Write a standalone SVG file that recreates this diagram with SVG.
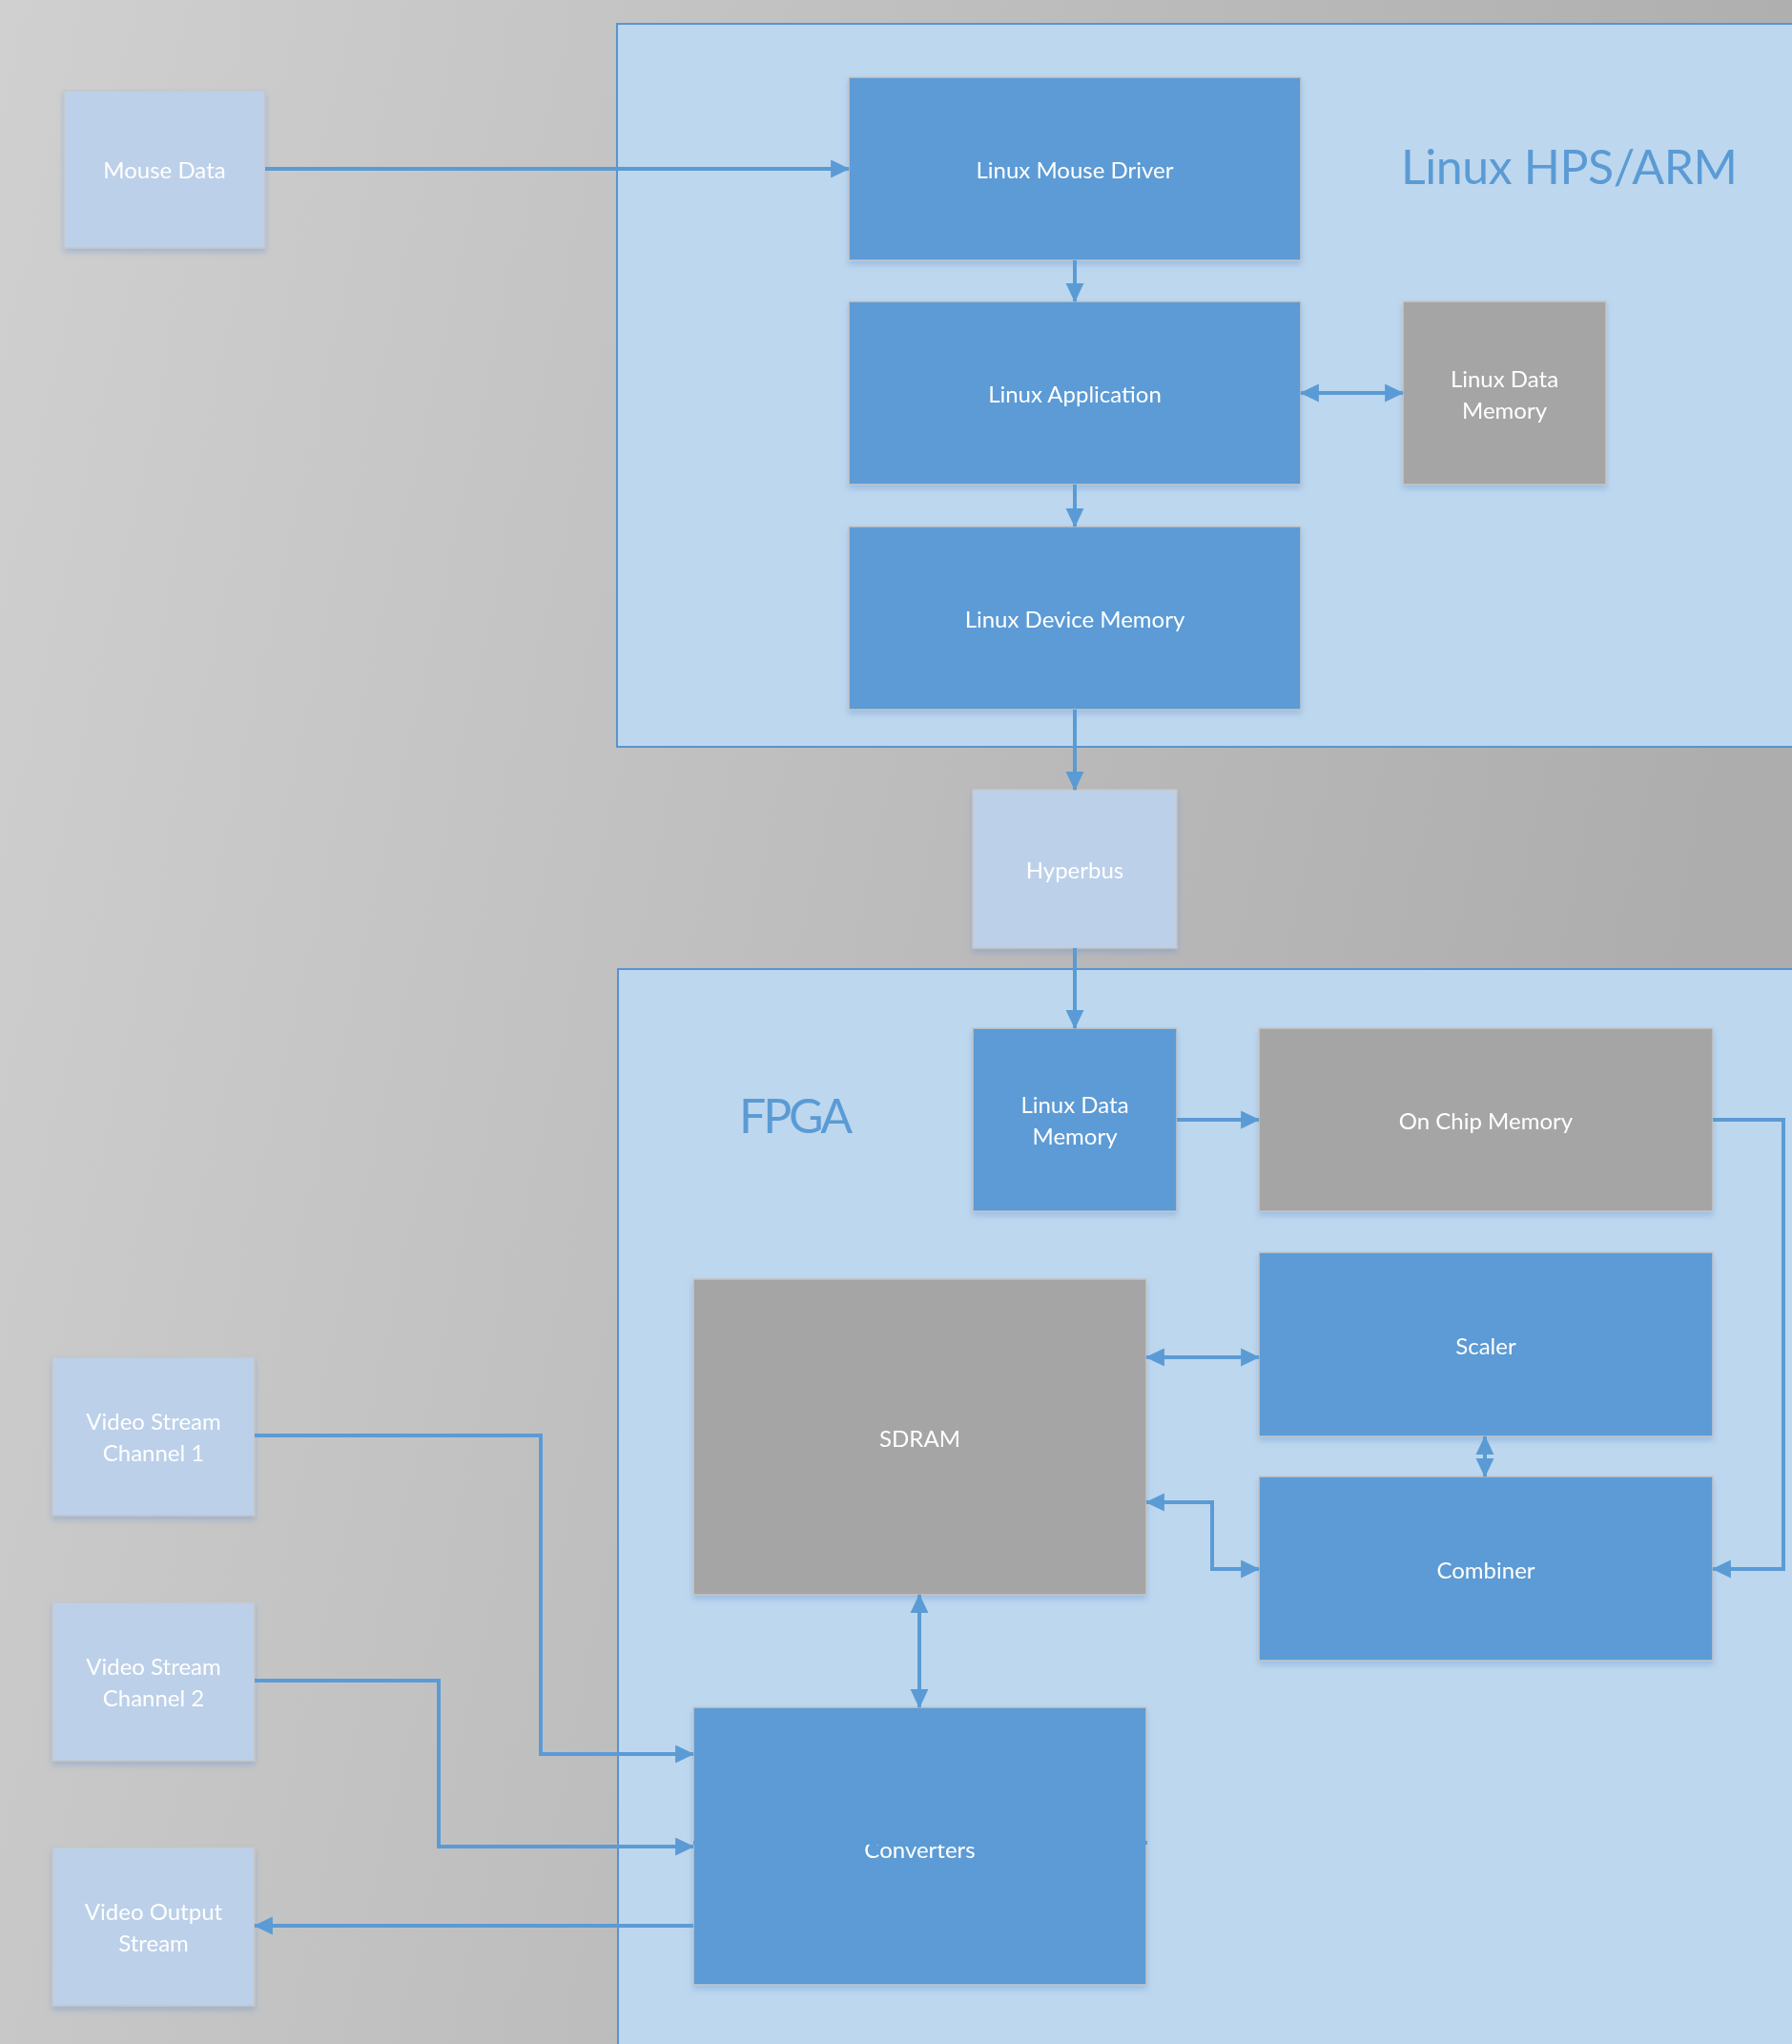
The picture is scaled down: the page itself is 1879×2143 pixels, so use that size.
<svg xmlns="http://www.w3.org/2000/svg" width="1879" height="2143" viewBox="0 0 1879 2143">
<style>
.lbl{font-family:"Lato","Open Sans","Liberation Sans",sans-serif;font-size:24px;fill:#ffffff;text-anchor:middle;dominant-baseline:central}
.title{font-family:"Lato","Open Sans","Liberation Sans",sans-serif;fill:#5b9bd5}
.blue{fill:#5b9bd5;stroke:#c6c6c6;stroke-width:1.5}
.gray{fill:#a5a5a5;stroke:#c6c6c6;stroke-width:1.5}
.light{fill:#bcd0e9;stroke:#c6c6c6;stroke-width:1.5}
.cont{fill:#bdd7ee;stroke:#5b93cf;stroke-width:2}
.conn{fill:none;stroke:#5b9bd5;stroke-width:4}
</style>
<defs>
<linearGradient id="bg" x1="0" y1="0" x2="1" y2="0.25">
<stop offset="0" stop-color="#d0d0d0"/>
<stop offset="1" stop-color="#adadad"/>
</linearGradient>
<filter id="sh" x="-5%" y="-5%" width="110%" height="115%">
<feDropShadow dx="0" dy="4" stdDeviation="3" flood-color="#5b8fd0" flood-opacity="0.35"/>
</filter>
<marker id="ah" markerUnits="userSpaceOnUse" markerWidth="20" markerHeight="20" viewBox="0 0 18 17" refX="17" refY="8.5" orient="auto-start-reverse">
<path d="M0,0 L18,8.5 L0,17 z" fill="#5b9bd5"/>
</marker>
</defs>
<rect x="0" y="0" width="1879" height="2143" fill="url(#bg)"/>

<g id="hps-container">
<rect class="cont" x="647" y="25" width="1240" height="758"/>
<text class="title" x="1469" y="193" font-size="50" textLength="353">Linux HPS/ARM</text>
</g>
<g id="fpga-container">
<rect class="cont" x="648" y="1016" width="1240" height="1140"/>
<text class="title" x="775" y="1188" font-size="50" textLength="119">FPGA</text>
</g>

<g id="mouse-data" filter="url(#sh)">
<rect class="light" x="67" y="95" width="211" height="165"/>
<text class="lbl" x="172.5" y="177">Mouse Data</text>
</g>
<g id="linux-mouse-driver" filter="url(#sh)">
<rect class="blue" x="890" y="81" width="474" height="192"/>
<text class="lbl" x="1127" y="177">Linux Mouse Driver</text>
</g>
<g id="linux-application" filter="url(#sh)">
<rect class="blue" x="890" y="316" width="474" height="192"/>
<text class="lbl" x="1127" y="412">Linux Application</text>
</g>
<g id="linux-data-memory-hps" filter="url(#sh)">
<rect class="gray" x="1471" y="316" width="213" height="192"/>
<text class="lbl" x="1577.5" y="396">Linux Data</text>
<text class="lbl" x="1577.5" y="429">Memory</text>
</g>
<g id="linux-device-memory" filter="url(#sh)">
<rect class="blue" x="890" y="552" width="474" height="192"/>
<text class="lbl" x="1127" y="648">Linux Device Memory</text>
</g>
<g id="hyperbus" filter="url(#sh)">
<rect class="light" x="1020" y="828" width="214" height="166"/>
<text class="lbl" x="1127" y="911">Hyperbus</text>
</g>
<g id="linux-data-memory-fpga" filter="url(#sh)">
<rect class="blue" x="1020" y="1078" width="214" height="192"/>
<text class="lbl" x="1127" y="1157">Linux Data</text>
<text class="lbl" x="1127" y="1190">Memory</text>
</g>
<g id="on-chip-memory" filter="url(#sh)">
<rect class="gray" x="1320" y="1078" width="476" height="192"/>
<text class="lbl" x="1558" y="1174">On Chip Memory</text>
</g>
<g id="sdram" filter="url(#sh)">
<rect class="gray" x="727" y="1341" width="475" height="331"/>
<text class="lbl" x="964.5" y="1507">SDRAM</text>
</g>
<g id="scaler" filter="url(#sh)">
<rect class="blue" x="1320" y="1313" width="476" height="193"/>
<text class="lbl" x="1558" y="1410">Scaler</text>
</g>
<g id="combiner" filter="url(#sh)">
<rect class="blue" x="1320" y="1548" width="476" height="193"/>
<text class="lbl" x="1558" y="1645">Combiner</text>
</g>
<g id="converters" filter="url(#sh)">
<rect class="blue" x="727" y="1790" width="475" height="291"/>
<text class="lbl" x="964.5" y="1938">Converters</text>
</g>
<g id="video-stream-1" filter="url(#sh)">
<rect class="light" x="55" y="1423" width="212" height="166"/>
<text class="lbl" x="161" y="1489">Video Stream</text>
<text class="lbl" x="161" y="1522">Channel 1</text>
</g>
<g id="video-stream-2" filter="url(#sh)">
<rect class="light" x="55" y="1680" width="212" height="166"/>
<text class="lbl" x="161" y="1746">Video Stream</text>
<text class="lbl" x="161" y="1779">Channel 2</text>
</g>
<g id="video-output" filter="url(#sh)">
<rect class="light" x="55" y="1937" width="212" height="166"/>
<text class="lbl" x="161" y="2003">Video Output</text>
<text class="lbl" x="161" y="2036">Stream</text>
</g>

<g id="connectors">
<path class="conn" d="M278,177 H890" marker-end="url(#ah)"/>
<path class="conn" d="M1127,273 V316" marker-end="url(#ah)"/>
<path class="conn" d="M1364,412 H1471" marker-start="url(#ah)" marker-end="url(#ah)"/>
<path class="conn" d="M1127,508 V552" marker-end="url(#ah)"/>
<path class="conn" d="M1127,744 V828" marker-end="url(#ah)"/>
<path class="conn" d="M1127,994 V1078" marker-end="url(#ah)"/>
<path class="conn" d="M1234,1174 H1320" marker-end="url(#ah)"/>
<path class="conn" d="M1796,1174 H1870 V1645 H1796" marker-end="url(#ah)"/>
<path class="conn" d="M1202,1423 H1320" marker-start="url(#ah)" marker-end="url(#ah)"/>
<path class="conn" d="M1557,1506 V1548" marker-start="url(#ah)" marker-end="url(#ah)"/>
<path class="conn" d="M1202,1575 H1271 V1645 H1320" marker-start="url(#ah)" marker-end="url(#ah)"/>
<path class="conn" d="M964,1672 V1790" marker-start="url(#ah)" marker-end="url(#ah)"/>
<path class="conn" d="M267,1505 H567 V1839 H727" marker-end="url(#ah)"/>
<path class="conn" d="M267,1762 H460 V1936 H727" marker-end="url(#ah)"/>
<path class="conn" d="M727,1932 H1203"/>
<path class="conn" d="M727,2019 H267" marker-end="url(#ah)"/>
</g>
</svg>
